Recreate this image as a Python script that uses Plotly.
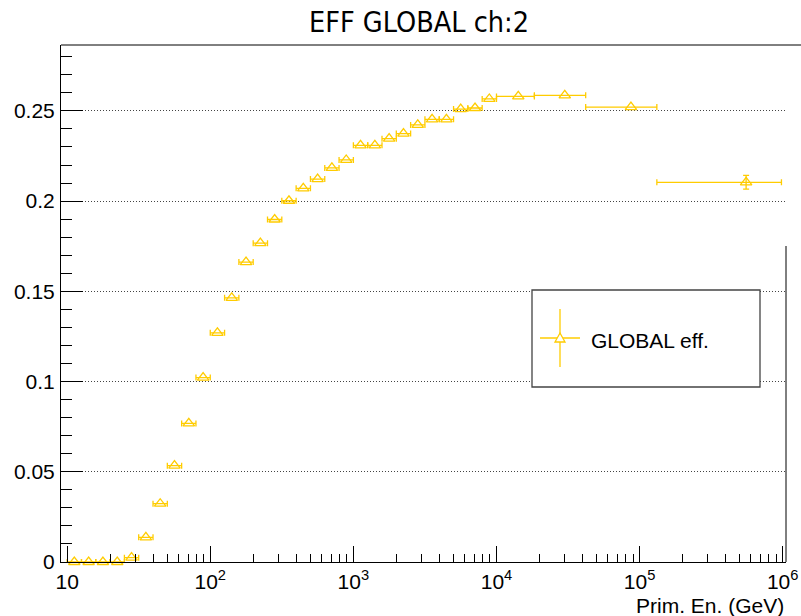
import plotly.graph_objects as go

# Primary energy bins (GeV): point position and bin edges
energy = [11.22, 14.13, 17.78, 22.39, 28.18, 35.48, 44.67, 56.23, 70.79, 89.13,
          112.2, 141.3, 177.8, 223.9, 281.8, 354.8, 446.7, 562.3, 707.9, 891.3,
          1122, 1413, 1778, 2239, 2818, 3548, 4467, 5623, 7079, 8913,
          14200, 30000, 87000, 555000]
energy_lo = [10.0, 12.59, 15.85, 19.95, 25.12, 31.62, 39.81, 50.12, 63.10, 79.43,
             100.0, 125.9, 158.5, 199.5, 251.2, 316.2, 398.1, 501.2, 631.0, 794.3,
             1000, 1259, 1585, 1995, 2512, 3162, 3981, 5012, 6310, 7943,
             10000, 18400, 42000, 132000]
energy_hi = [12.59, 15.85, 19.95, 25.12, 31.62, 39.81, 50.12, 63.10, 79.43, 100.0,
             125.9, 158.5, 199.5, 251.2, 316.2, 398.1, 501.2, 631.0, 794.3, 1000,
             1259, 1585, 1995, 2512, 3162, 3981, 5012, 6310, 7943, 10000,
             18400, 42000, 132000, 980000]

# Global efficiency per bin and its uncertainty
efficiency = [0.0, 0.0, 0.0, 0.0, 0.0024, 0.0137, 0.0323, 0.0534, 0.0768, 0.1022,
              0.1270, 0.1464, 0.1662, 0.1767, 0.1898, 0.2002, 0.2071, 0.2122, 0.2184, 0.2228,
              0.2309, 0.2309, 0.2346, 0.2374, 0.2422, 0.2453, 0.2453, 0.2510, 0.2516, 0.2566,
              0.2580, 0.2586, 0.2521, 0.2104]
eff_err = [0.0, 0.0, 0.0, 0.0, 0.0, 0.0, 0.0, 0.0, 0.0, 0.0,
           0.0, 0.0, 0.0, 0.0, 0.0, 0.0, 0.0, 0.0, 0.0, 0.0,
           0.0, 0.0, 0.0, 0.0, 0.0, 0.0, 0.0, 0.0, 0.0, 0.0,
           0.0, 0.0, 0.0, 0.0038]

x_tickvals = [10, 1e2, 1e3, 1e4, 1e5, 1e6]
x_ticktext = ["10", "10<sup>2</sup>", "10<sup>3</sup>", "10<sup>4</sup>",
              "10<sup>5</sup>", "10<sup>6</sup>"]
y_tickvals = [0, 0.05, 0.1, 0.15, 0.2, 0.25]
y_ticktext = ["0", "0.05", "0.1", "0.15", "0.2", "0.25"]

GOLD = "#ffcc00"
FONT = "Liberation Sans, Arial, Helvetica, sans-serif"
NARROW = "Liberation Sans Narrow, Arial Narrow, DejaVu Sans Condensed, sans-serif"

err_plus = [h - c for h, c in zip(energy_hi, energy)]
err_minus = [c - l for c, l in zip(energy, energy_lo)]

fig = go.Figure()
fig.add_trace(go.Scatter(
    x=energy, y=efficiency, mode="markers",
    marker=dict(symbol="triangle-up-open", size=10, color=GOLD,
                line=dict(color=GOLD, width=1.3)),
    error_x=dict(type="data", symmetric=False, array=err_plus, arrayminus=err_minus,
                 color=GOLD, thickness=1.3, width=3),
    cliponaxis=False, showlegend=False,
))
# vertical uncertainties where they exceed the marker
sel = [i for i, e in enumerate(eff_err) if e > 0]
fig.add_trace(go.Scatter(
    x=[energy[i] for i in sel], y=[efficiency[i] for i in sel], mode="markers",
    marker=dict(size=1, color="rgba(0,0,0,0)"),
    error_y=dict(type="data", array=[eff_err[i] for i in sel],
                 color=GOLD, thickness=1.3, width=3),
    cliponaxis=False, showlegend=False,
))

minor_x = [m * 10 ** d for d in range(1, 6) for m in range(2, 10)]

fig.update_xaxes(
    type="log", range=[0.957, 6.023], automargin=False,
    tickmode="array", tickvals=x_tickvals, ticktext=x_ticktext,
    ticks="inside", ticklen=16, tickcolor="black", tickwidth=1,
    minor=dict(ticks="inside", ticklen=8, tickvals=minor_x, tickcolor="black",
               tickwidth=1, showgrid=False),
    showline=True, linecolor="black", linewidth=1,
    showgrid=False, zeroline=False,
    tickfont=dict(family=FONT, size=21, color="black"),
    ticklabelstandoff=1,
)
fig.update_yaxes(
    range=[0, 0.2865], automargin=False,
    tickmode="array", tickvals=y_tickvals, ticktext=y_ticktext,
    ticks="inside", ticklen=22, tickcolor="black", tickwidth=1,
    minor=dict(ticks="inside", ticklen=11, dtick=0.01, tick0=0, tickcolor="black",
               tickwidth=1, showgrid=False),
    showline=True, linecolor="black", linewidth=1,
    showgrid=True, gridcolor="#444", griddash="1px,2px", gridwidth=1,
    zeroline=False,
    tickfont=dict(family=FONT, size=21, color="black"),
    ticklabelstandoff=1,
)

W, H = 801, 616
ML, MR, MT, MB = 61, 15, 45, 54
pw, ph = W - ML - MR, H - MT - MB


def px_x(p):
    return (p - ML) / pw


def px_y(p):
    return (H - MB - p) / ph


shapes = [
    # frame: top edge and right edge
    dict(type="line", xref="paper", yref="paper", x0=0, x1=px_x(801), y0=1, y1=1,
         line=dict(color="black", width=1)),
    dict(type="line", xref="paper", yref="paper", x0=1, x1=1, y0=0, y1=px_y(246),
         line=dict(color="black", width=1)),
    # legend box
    dict(type="rect", xref="paper", yref="paper", x0=px_x(532), x1=px_x(760),
         y0=px_y(387), y1=px_y(290), fillcolor="white",
         line=dict(color="#444", width=1.3)),
    # legend symbol: error cross and triangle
    dict(type="line", xref="paper", yref="paper", x0=px_x(540), x1=px_x(580),
         y0=px_y(338), y1=px_y(338), line=dict(color=GOLD, width=1.3)),
    dict(type="line", xref="paper", yref="paper", x0=px_x(560), x1=px_x(560),
         y0=px_y(309), y1=px_y(367), line=dict(color=GOLD, width=1.3)),
    dict(type="path", xref="paper", yref="paper",
         path="M {:.5f},{:.5f} L {:.5f},{:.5f} L {:.5f},{:.5f} Z".format(
             px_x(555), px_y(342), px_x(565), px_y(342), px_x(560), px_y(333)),
         fillcolor="white", line=dict(color=GOLD, width=1.3)),
]

annotations = [
    dict(text="EFF GLOBAL ch:2", xref="paper", yref="paper",
         x=px_x(418.5), y=px_y(22), xanchor="center", yanchor="middle",
         showarrow=False, font=dict(family=NARROW, size=28.5, color="black")),
    dict(text="Prim. En. (GeV)", xref="paper", yref="paper",
         x=px_x(786), y=px_y(605), xanchor="right", yanchor="middle",
         showarrow=False, font=dict(family=FONT, size=21, color="black")),
    dict(text="GLOBAL eff.", xref="paper", yref="paper",
         x=px_x(589), y=px_y(340), xanchor="left", yanchor="middle",
         showarrow=False, font=dict(family=FONT, size=21, color="black")),
]

fig.update_layout(
    width=W, height=H,
    margin=dict(l=ML, r=MR, t=MT, b=MB, pad=0, autoexpand=False),
    paper_bgcolor="white", plot_bgcolor="white",
    shapes=shapes, annotations=annotations,
    showlegend=False,
)

fig.write_html("out.html")
